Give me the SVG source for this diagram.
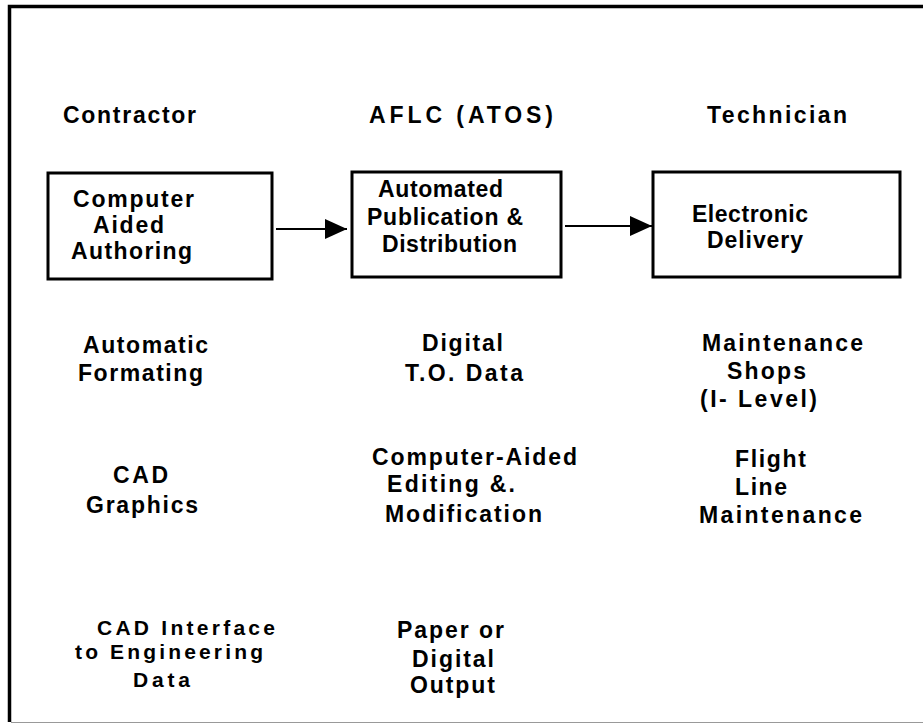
<svg xmlns="http://www.w3.org/2000/svg" width="923" height="724" viewBox="0 0 923 724">
<style>
text{font-family:"Liberation Sans",Arial,sans-serif;font-weight:bold;font-size:23px;fill:#000}
.sm{font-size:21px}
.box{fill:#fff;stroke:#000;stroke-width:3}
.conn{stroke:#000;stroke-width:2;fill:none}
</style>
<defs>
<marker id="ah" markerWidth="22" markerHeight="20" refX="22" refY="10" orient="auto" markerUnits="userSpaceOnUse">
<path d="M0,0 L22,10 L0,20 Z" fill="#000"/>
</marker>
</defs>
<rect width="923" height="724" fill="#fff"/>
<path d="M923 6.5 H9.5 V722" fill="none" stroke="#000" stroke-width="3.5"/>
<line x1="11" y1="722.5" x2="923" y2="722.5" stroke="#999" stroke-width="1"/>

<g id="headings">
<text x="63" y="123" textLength="133" lengthAdjust="spacing">Contractor</text>
<text x="369" y="123" textLength="184" lengthAdjust="spacing">AFLC (ATOS)</text>
<text x="707" y="123" textLength="140" lengthAdjust="spacing">Technician</text>
</g>

<g id="node-authoring">
<rect class="box" x="48" y="173" width="224" height="106"/>
<text x="73" y="207" textLength="121" lengthAdjust="spacing">Computer</text>
<text x="93" y="233" textLength="71" lengthAdjust="spacing">Aided</text>
<text x="71" y="259" textLength="121" lengthAdjust="spacing">Authoring</text>
</g>

<g id="node-publication">
<rect class="box" x="352" y="172" width="209" height="105"/>
<text x="378" y="197" textLength="125" lengthAdjust="spacing">Automated</text>
<text x="367" y="225" textLength="156" lengthAdjust="spacing">Publication &amp;</text>
<text x="382" y="252" textLength="135" lengthAdjust="spacing">Distribution</text>
</g>

<g id="node-delivery">
<rect class="box" x="653" y="172" width="247" height="105"/>
<text x="692" y="222" textLength="116" lengthAdjust="spacing">Electronic</text>
<text x="707" y="248" textLength="96" lengthAdjust="spacing">Delivery</text>
</g>

<g id="connectors">
<line class="conn" x1="276" y1="229" x2="347" y2="229" marker-end="url(#ah)"/>
<line class="conn" x1="565" y1="226" x2="652" y2="226" marker-end="url(#ah)"/>
</g>

<g id="contractor-items">
<text x="83" y="353" textLength="125" lengthAdjust="spacing">Automatic</text>
<text x="78" y="381" textLength="125" lengthAdjust="spacing">Formating</text>
<text x="113" y="483" textLength="55" lengthAdjust="spacing">CAD</text>
<text x="86" y="513" textLength="112" lengthAdjust="spacing">Graphics</text>
<text class="sm" x="97" y="635" textLength="178" lengthAdjust="spacing">CAD Interface</text>
<text class="sm" x="75" y="659" textLength="188" lengthAdjust="spacing">to Engineering</text>
<text class="sm" x="133" y="687" textLength="57" lengthAdjust="spacing">Data</text>
</g>

<g id="aflc-items">
<text x="422" y="351" textLength="81" lengthAdjust="spacing">Digital</text>
<text x="405" y="381" textLength="118" lengthAdjust="spacing">T.O. Data</text>
<text x="372" y="465" textLength="205" lengthAdjust="spacing">Computer-Aided</text>
<text x="387" y="492" textLength="128" lengthAdjust="spacing">Editing &amp;.</text>
<text x="385" y="522" textLength="157" lengthAdjust="spacing">Modification</text>
<text x="397" y="638" textLength="107" lengthAdjust="spacing">Paper or</text>
<text x="412" y="667" textLength="82" lengthAdjust="spacing">Digital</text>
<text x="410" y="693" textLength="85" lengthAdjust="spacing">Output</text>
</g>

<g id="technician-items">
<text x="702" y="351" textLength="161" lengthAdjust="spacing">Maintenance</text>
<text x="727" y="379" textLength="79" lengthAdjust="spacing">Shops</text>
<text x="700" y="407" textLength="117" lengthAdjust="spacing">(I- Level)</text>
<text x="735" y="467" textLength="71" lengthAdjust="spacing">Flight</text>
<text x="735" y="495" textLength="52" lengthAdjust="spacing">Line</text>
<text x="699" y="523" textLength="163" lengthAdjust="spacing">Maintenance</text>
</g>
</svg>
